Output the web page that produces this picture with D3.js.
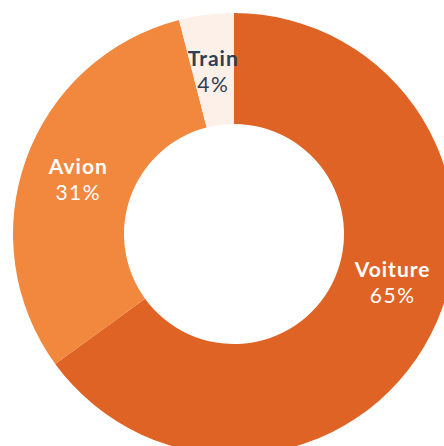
<!DOCTYPE html>
<html lang="fr">
<head>
<meta charset="UTF-8">
<title>Transport</title>
<script src="https://d3js.org/d3.v7.min.js"></script>
<style>
  html, body { margin: 0; padding: 0; background: #fff; }
  svg text { font-family: Lato, "Open Sans", sans-serif; }
</style>
</head>
<body>
<div id="chart"></div>
<script>
const modes = ["Voiture", "Avion", "Train"];
const shares = [65, 31, 4];
const colors = ["#E06326", "#F2883D", "#FDF0E8"];
const textColors = ["#ffffff", "#ffffff", "#2D3E55"];

const width = 444, height = 446;
const cx = 234, cy = 234;
const outerR = 221, innerR = 110;

const svg = d3.select("#chart").append("svg")
    .attr("width", width)
    .attr("height", height);

const g = svg.append("g").attr("transform", `translate(${cx},${cy})`);

const data = modes.map((m, i) => ({ mode: m, value: shares[i], color: colors[i], text: textColors[i] }));

const pie = d3.pie().value(d => d.value).sort(null);
const arc = d3.arc().innerRadius(innerR).outerRadius(outerR);

const arcs = pie(data);

g.selectAll("path")
    .data(arcs)
    .join("path")
    .attr("d", arc)
    .attr("fill", d => d.data.color);

// label radius / angle: the big slice is cropped, so its label sits higher
const labelR = (innerR + outerR) / 2;
const labelAngle = d => d.data.mode === "Voiture" ? 1.86 : (d.startAngle + d.endAngle) / 2;

const labels = g.selectAll("text.label")
    .data(arcs)
    .join("text")
    .attr("class", "label")
    .attr("text-anchor", "middle")
    .attr("fill", d => d.data.text)
    .attr("transform", d => {
        const a = labelAngle(d);
        return `translate(${Math.sin(a) * labelR},${-Math.cos(a) * labelR})`;
    });

labels.append("tspan")
    .attr("x", 0)
    .attr("y", -4)
    .style("font-size", "21px")
    .style("font-weight", 700)
    .style("letter-spacing", "1px")
    .text(d => d.data.mode);

labels.append("tspan")
    .attr("x", 0)
    .attr("y", 22)
    .style("font-size", "21px")
    .style("font-weight", 400)
    .style("letter-spacing", "1.5px")
    .text(d => d.data.value + "%");
</script>
</body>
</html>
